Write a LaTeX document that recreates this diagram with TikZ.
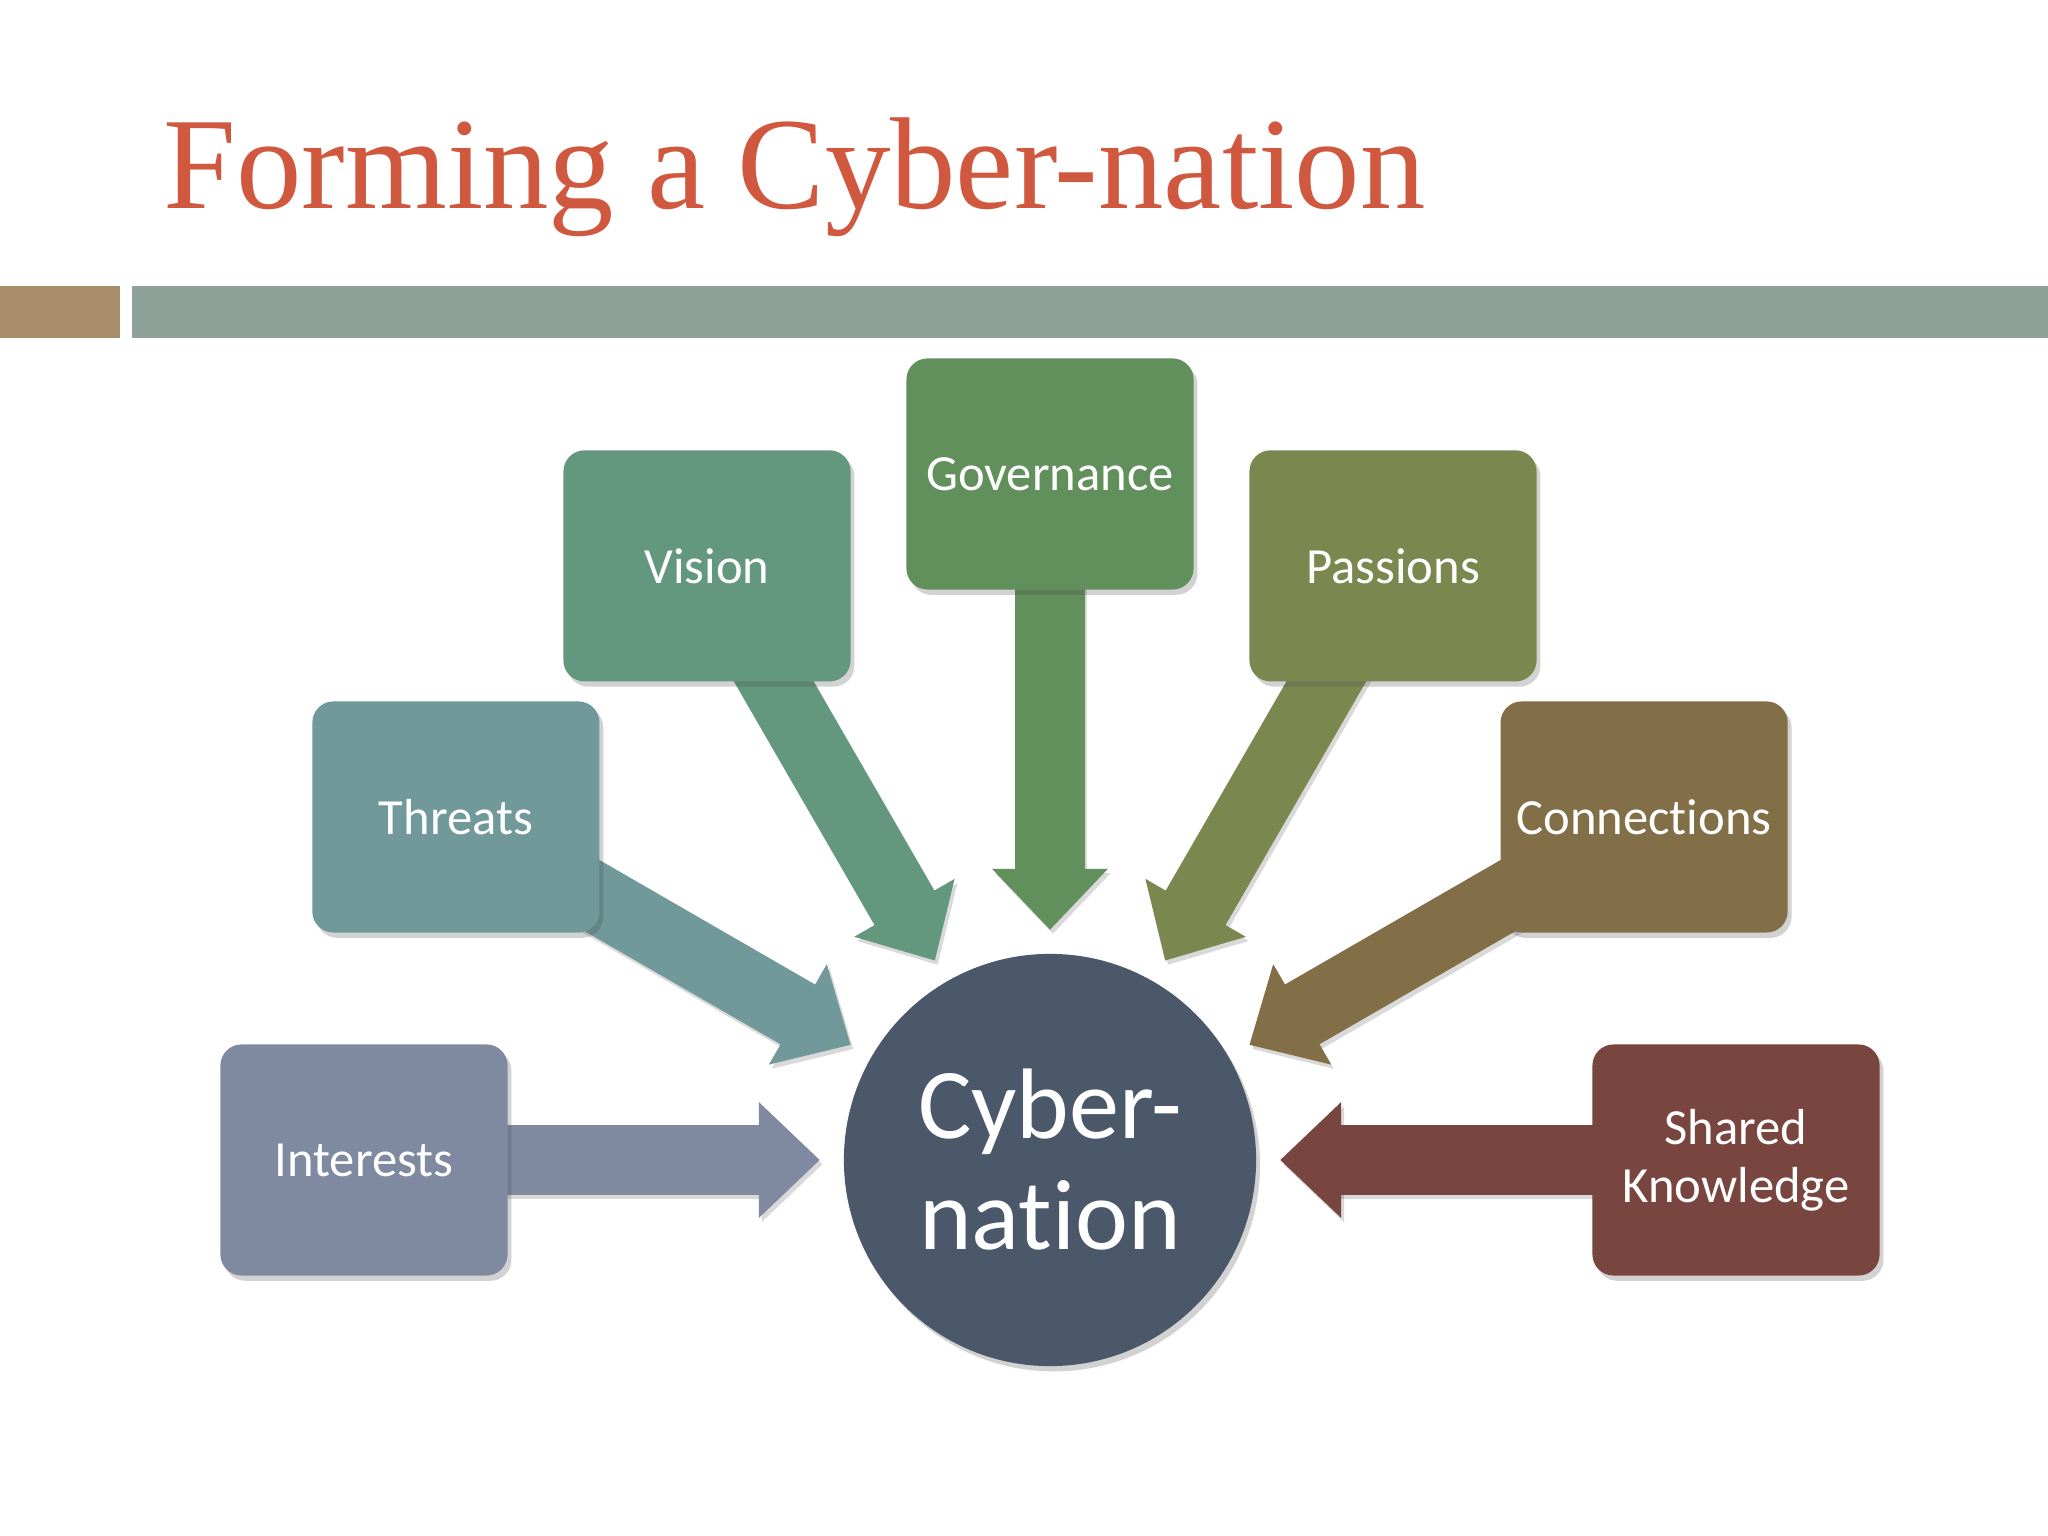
\documentclass[tikz,border=0pt]{standalone}
\usepackage{fontspec}
\setmainfont{Carlito}[Ligatures={NoCommon,NoContextual},RawFeature={-liga;-clig;-dlig}]
\newfontfamily\titlefont{Liberation Serif}
\usetikzlibrary{arrows.meta,calc,shadows}
\pgfdeclarelayer{bg}
\pgfsetlayers{bg,main}
\definecolor{titlecol}{HTML}{D0583F}
\definecolor{tanbar}{HTML}{A98C69}
\definecolor{graybar}{HTML}{8FA29A}
\definecolor{cInt}{HTML}{7F8AA1}
\definecolor{cThr}{HTML}{72999A}
\definecolor{cVis}{HTML}{63987E}
\definecolor{cGov}{HTML}{62905C}
\definecolor{cPas}{HTML}{7A8850}
\definecolor{cCon}{HTML}{826F47}
\definecolor{cSha}{HTML}{79463F}
\definecolor{cCir}{HTML}{4B5869}
\begin{document}
\begin{tikzpicture}[x=0.01cm,y=0.01cm,
  softshadow/.style={drop shadow={shadow xshift=1.1pt,shadow yshift=-1.5pt,opacity=0.25,fill=black!70}},
  box/.style={rectangle,rounded corners=6pt,minimum width=2.87cm,minimum height=2.31cm,
    text=white,font=\fontsize{14.4}{16.5}\selectfont,align=center,inner sep=0pt,softshadow},
  blockarrow/.style={line width=19.63pt,-{Triangle[length=17.36pt,width=31.87pt]}},
  arrowshadow/.style={blockarrow,draw=black,opacity=0.15,transform canvas={xshift=0.8pt,yshift=-1.2pt}}]
\useasboundingbox (0,0) rectangle (2048,1536);
% title and bars
\node[anchor=base west,text=titlecol,font=\titlefont\fontsize{37.2}{40}\selectfont,inner sep=0pt] (title) at (163,1327) {Forming a Cyber-nation};
\fill[tanbar] (0,1198) rectangle (120,1250);
\fill[graybar] (132,1198) rectangle (2048,1250);
% centre
\node[circle,fill=cCir,minimum size=4.12cm,inner sep=0pt,text=white,
  font=\fontsize{28.5}{31.6}\selectfont,align=center,softshadow] (cyber) at (1050,376) {Cyber-\\nat\kern0pt ion};
% boxes
\node[box,fill=cInt] (int) at ($(cyber)+(180:686)$) {Interests};
\node[box,fill=cThr] (thr) at ($(cyber)+(150:686)$) {Threats};
\node[box,fill=cVis] (vis) at ($(cyber)+(120:686)$) {Vision};
\node[box,fill=cGov] (gov) at ($(cyber)+(90:686)$) {Governance};
\node[box,fill=cPas] (pas) at ($(cyber)+(60:686)$) {Passions};
\node[box,fill=cCon] (con) at ($(cyber)+(30:686)$) {Connections};
\node[box,fill=cSha] (sha) at ($(cyber)+(0:686)$) {Shared\\Knowledge};
% arrows
\begin{pgfonlayer}{bg}
\fill[white] (0,0) rectangle (2048,1536);
\foreach \n/\c in {int/cInt,thr/cThr,vis/cVis,gov/cGov,pas/cPas,con/cCon,sha/cSha}{
  \draw[arrowshadow] (\n.center) -- ($(cyber)!2.3cm!(\n.center)$);
  \draw[blockarrow,draw=\c] (\n.center) -- ($(cyber)!2.3cm!(\n.center)$);
}
\end{pgfonlayer}
\end{tikzpicture}
\end{document}
